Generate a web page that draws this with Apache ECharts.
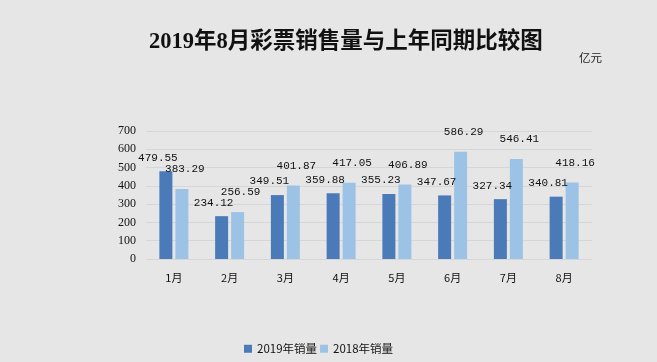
<!DOCTYPE html>
<html><head><meta charset="utf-8">
<script src="https://cdn.jsdelivr.net/npm/echarts@6/dist/echarts.min.js"></script>
<style>html,body{margin:0;padding:0;background:#e6e6e6;}#c{width:657px;height:362px;}</style>
</head><body><div id="c"></div>
<script>
var categories = ['1月','2月','3月','4月','5月','6月','7月','8月'];
var sales2019 = [479.55, 234.12, 349.51, 359.88, 355.23, 347.67, 327.34, 340.81];
var sales2018 = [383.29, 256.59, 401.87, 417.05, 406.89, 586.29, 546.41, 418.16];
var seriesNames = ['2019年销量', '2018年销量'];
var titleText = '2019年8月彩票销售量与上年同期比较图';
var unitText = '亿元';

var chart = echarts.init(document.getElementById('c'));
var labelFont = {fontFamily: 'Liberation Mono, Noto Sans CJK SC', fontSize: 11, color: '#111'};
chart.setOption({
  backgroundColor: '#e6e6e6',
  animation: false,
  title: [{
    text: titleText, left: 144, top: 26,
    textStyle: {fontFamily: 'Liberation Serif, Noto Sans CJK SC', fontWeight: 'bold', fontSize: 22.5, color: '#111'}
  }, {
    text: unitText, left: 574, top: 47,
    textStyle: {fontFamily: 'Noto Sans CJK SC', fontWeight: 'normal', fontSize: 11.5, color: '#222'}
  }],
  legend: {
    data: seriesNames, left: 239, top: 338, itemWidth: 8, itemHeight: 8, itemGap: 3, icon: 'rect',
    textStyle: {fontFamily: 'Noto Sans CJK SC', fontSize: 11.5, color: '#111'}
  },
  grid: {left: 146, right: 65, top: 131, bottom: 103},
  xAxis: {
    type: 'category', data: categories,
    axisLine: {show: false}, axisTick: {show: false},
    axisLabel: {margin: 13, fontFamily: 'Noto Sans CJK SC', fontSize: 11, color: '#111'}
  },
  yAxis: {
    type: 'value', min: 0, max: 700, interval: 100,
    axisLine: {show: false}, axisTick: {show: false},
    axisLabel: {margin: 10, fontFamily: 'Liberation Serif', fontSize: 12, color: '#111'},
    splitLine: {lineStyle: {color: '#d6d6d6', width: 1}}
  },
  series: [{
    name: seriesNames[0], type: 'bar', data: sales2019,
    barWidth: 13, barGap: '23%',
    itemStyle: {color: '#4a7ab8'},
    label: Object.assign({show: true, position: 'top', offset: [-8, -3]}, labelFont)
  }, {
    name: seriesNames[1], type: 'bar', data: sales2018,
    barWidth: 13,
    itemStyle: {color: '#9cc3e5'},
    label: Object.assign({show: true, position: 'top', offset: [3, -9]}, labelFont)
  }]
});
</script></body></html>
